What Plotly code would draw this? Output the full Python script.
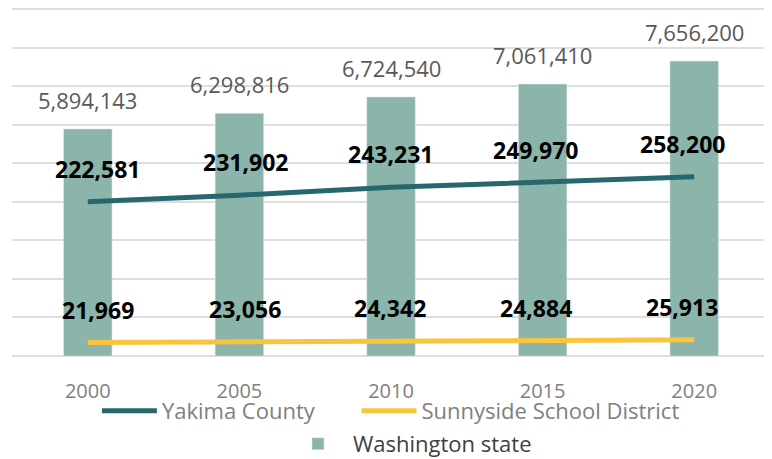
import plotly.graph_objects as go

years = ["2000", "2005", "2010", "2015", "2020"]
washington = [5894143, 6298816, 6724540, 7061410, 7656200]
yakima = [222581, 231902, 243231, 249970, 258200]
sunnyside = [21969, 23056, 24342, 24884, 25913]

# horizontal nudge (px) of the bold line labels, as placed in the original
label_nudge = [10, 6, -1, -7, -12]

FONT = "Open Sans"

fig = go.Figure()

fig.add_trace(go.Bar(
    name="Washington state",
    x=years,
    y=washington,
    marker_color="#8BB4AA",
    legend="legend3",
    yaxis="y",
))

fig.add_trace(go.Scatter(
    name="Yakima County",
    x=years,
    y=yakima,
    mode="lines",
    line=dict(color="#26686D", width=5),
    legend="legend",
    yaxis="y2",
))

fig.add_trace(go.Scatter(
    name="Sunnyside School District",
    x=years,
    y=sunnyside,
    mode="lines",
    line=dict(color="#FBC43D", width=5),
    legend="legend2",
    yaxis="y2",
))

# value labels (x given as category index so plotly doesn't read "2000" as a number)
annotations = []
for i, v in enumerate(washington):
    annotations.append(dict(
        x=i, y=v, xref="x", yref="y", text=f"{v:,}",
        showarrow=False, yanchor="bottom", yshift=12,
        font=dict(family=FONT, size=22, color="#595959"),
    ))
for series in (yakima, sunnyside):
    for i, v in enumerate(series):
        annotations.append(dict(
            x=i, y=v, xref="x", yref="y2", text=f"<b>{v:,}</b>",
            showarrow=False, yanchor="bottom", yshift=15, xshift=label_nudge[i],
            font=dict(family=FONT, size=23, color="#000000"),
        ))

# page body has an 8px margin, so the figure is drawn 8px smaller and offset.
# y range padded a little so plotly keeps the 0 and 9M gridlines (it drops
# gridlines within 1px of the plot edge)
fig.update_layout(
    width=764,
    height=451,
    margin=dict(l=4, r=2, t=0, b=101, autoexpand=False),
    paper_bgcolor="white",
    plot_bgcolor="white",
    font=dict(family=FONT, size=20, color="#808080"),
    bargap=0.68,
    showlegend=True,
    xaxis=dict(
        type="category",
        range=[-0.5, 4.5],
        showgrid=False,
        showline=False,
        ticks="",
        ticklabelstandoff=19,
        tickfont=dict(size=20, color="#808080"),
    ),
    yaxis=dict(
        range=[-51900, 9033700],
        dtick=1000000,
        showticklabels=False,
        showgrid=True,
        gridcolor="#DEDEDE",
        gridwidth=2,
        zeroline=False,
    ),
    yaxis2=dict(
        range=[0, 498600],
        overlaying="y",
        side="right",
        showticklabels=False,
        showgrid=False,
        zeroline=False,
    ),
    legend=dict(
        orientation="h", x=0.112, y=-0.1514, xanchor="left", yanchor="middle",
        itemwidth=55,
        font=dict(family=FONT, size=22, color="#808080"),
        bgcolor="rgba(0,0,0,0)",
    ),
    legend2=dict(
        orientation="h", x=0.4545, y=-0.1514, xanchor="left", yanchor="middle",
        itemwidth=55,
        font=dict(family=FONT, size=22, color="#808080"),
        bgcolor="rgba(0,0,0,0)",
    ),
    legend3=dict(
        orientation="h", x=0.3575, y=-0.2457, xanchor="left", yanchor="middle",
        itemwidth=60,
        font=dict(family=FONT, size=22, color="#404040"),
        bgcolor="rgba(0,0,0,0)",
    ),
    annotations=annotations,
)

fig.write_html("out.html")
